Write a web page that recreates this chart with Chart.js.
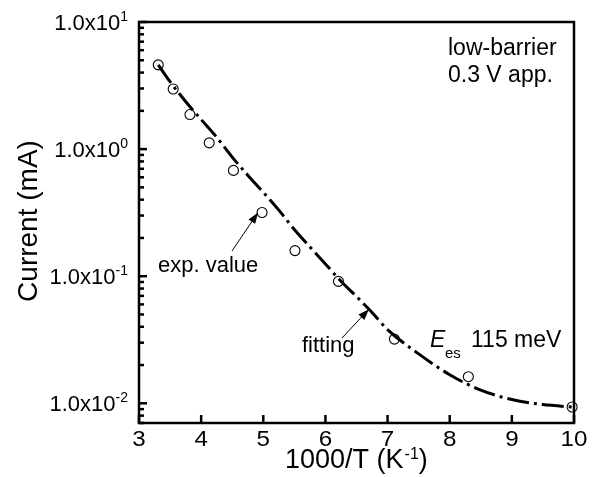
<!DOCTYPE html>
<html>
<head>
<meta charset="utf-8">
<script src="https://cdn.jsdelivr.net/npm/chart.js@4.4.0/dist/chart.umd.min.js"></script>
<style>
  html, body { margin: 0; padding: 0; background: #fff; }
</style>
</head>
<body>
<canvas id="chart" width="595" height="477"></canvas>
<script>
// measured points (open circles)
const expX = [3.31, 3.55, 3.82, 4.13, 4.52, 4.98, 5.51, 6.21, 7.11, 8.30, 9.97];
const expY = [4.6, 2.97, 1.87, 1.12, 0.68, 0.317, 0.159, 0.091, 0.032, 0.0162, 0.00935];

// fitted curve (dash-dot)
const fitX = [3.31, 3.5, 3.75, 4.0, 4.25, 4.5, 4.75, 5.0, 5.25, 5.5, 5.75, 6.0, 6.25, 6.5, 6.75, 7.0, 7.5, 8.0, 8.5, 9.0, 9.5, 10.0];
const fitY = [4.6, 3.39, 2.37, 1.71, 1.24, 0.865, 0.624, 0.457, 0.331, 0.233, 0.170, 0.125, 0.0912, 0.0692, 0.0519, 0.0380, 0.0245, 0.0168, 0.0127, 0.0107, 0.00977, 0.00933];

const xTicks = [3, 4, 5, 6, 7, 8, 9, 10];
const yDecades = [0.01, 0.1, 1, 10];
const yTickLabels = [["1.0x10", "-2"], ["1.0x10", "-1"], ["1.0x10", "0"], ["1.0x10", "1"]];
const yMin = 0.007, yMax = 10;

const FONT = '"Liberation Sans", Arial, sans-serif';

// text with a slight horizontal stretch, like the original figure
function txt(ctx, s, x, y, size, align, sx, style) {
  ctx.save();
  ctx.font = (style ? style + ' ' : '') + size + 'px ' + FONT;
  ctx.textAlign = align || 'left';
  ctx.translate(x, y);
  ctx.scale(sx || 1, 1);
  ctx.fillText(s, 0, 0);
  const w = ctx.measureText(s).width * (sx || 1);
  ctx.restore();
  return w;
}

function drawArrow(ctx, x0, y0, x1, y1) {
  const ang = Math.atan2(y1 - y0, x1 - x0);
  const len = 11, half = 4;
  ctx.beginPath();
  ctx.moveTo(x0, y0);
  ctx.lineTo(x1 - Math.cos(ang) * len * 0.8, y1 - Math.sin(ang) * len * 0.8);
  ctx.lineWidth = 1;
  ctx.stroke();
  ctx.beginPath();
  ctx.moveTo(x1, y1);
  ctx.lineTo(x1 - Math.cos(ang) * len - Math.sin(ang) * half, y1 - Math.sin(ang) * len + Math.cos(ang) * half);
  ctx.lineTo(x1 - Math.cos(ang) * len + Math.sin(ang) * half, y1 - Math.sin(ang) * len - Math.cos(ang) * half);
  ctx.closePath();
  ctx.fill();
}

const frame = {
  id: 'frame',
  afterDraw(chart) {
    const ctx = chart.ctx;
    const a = chart.chartArea;
    const xs = chart.scales.x, ys = chart.scales.y;
    ctx.save();
    ctx.strokeStyle = '#000';
    ctx.fillStyle = '#000';
    ctx.textBaseline = 'alphabetic';

    // box
    ctx.lineWidth = 2.5;
    ctx.strokeRect(a.left, a.top, a.right - a.left, a.bottom - a.top);

    // x ticks (inward) + labels
    xTicks.forEach(v => {
      const px = xs.getPixelForValue(v);
      ctx.beginPath();
      ctx.moveTo(px, a.bottom);
      ctx.lineTo(px, a.bottom - 8);
      ctx.stroke();
      txt(ctx, String(v), px, a.bottom + 23, 22, 'center', 1.1);
    });

    // y ticks: decades long, 2..9 short
    for (let d = -3; d <= 1; d++) {
      for (let m = 1; m <= 9; m++) {
        const v = m * Math.pow(10, d);
        if (v < yMin - 1e-9 || v > yMax + 1e-9) continue;
        const py = ys.getPixelForValue(v);
        ctx.beginPath();
        ctx.moveTo(a.left, py);
        ctx.lineTo(a.left + (m === 1 ? 8 : 5), py);
        ctx.stroke();
      }
    }
    yDecades.forEach((v, i) => {
      const py = ys.getPixelForValue(v);
      const [base, sup] = yTickLabels[i];
      const right = a.left - 11;
      const sw = txt(ctx, sup, right, py - 1, 14, 'right', 1);
      txt(ctx, base, right - sw, py + 8, 22, 'right', 1);
    });

    // axis titles
    ctx.save();
    ctx.translate(37, 221);
    ctx.rotate(-Math.PI / 2);
    txt(ctx, 'Current (mA)', 0, 0, 28, 'center', 1);
    ctx.restore();

    const by = 468;
    let x0 = 285;
    x0 += txt(ctx, '1000/T (K', x0, by, 27, 'left', 1);
    x0 += txt(ctx, '-1', x0 + 1, by - 9, 16, 'left', 1) + 1;
    txt(ctx, ')', x0, by, 27, 'left', 1);

    // annotations
    txt(ctx, 'low-barrier', 448, 55, 23, 'left', 1);
    txt(ctx, '0.3 V app.', 448, 82, 23, 'left', 1);
    txt(ctx, 'exp. value', 158, 272, 22, 'left', 1);
    txt(ctx, 'fitting', 302, 352, 22, 'left', 1);

    txt(ctx, 'E', 430, 347, 23, 'left', 1, 'italic');
    txt(ctx, 'es', 445, 358, 15, 'left', 1);
    txt(ctx, '115 meV', 471, 347, 23, 'left', 1);

    // arrows pointing at a data point and at the fit
    const ex = xs.getPixelForValue(expX[5]), ey = ys.getPixelForValue(expY[5]);
    drawArrow(ctx, 232, 251, ex - 4, ey);
    const fx = xs.getPixelForValue(6.7), fy = ys.getPixelForValue(0.055);
    drawArrow(ctx, 342, 338, fx, fy);

    ctx.restore();
  }
};

new Chart(document.getElementById('chart'), {
  type: 'scatter',
  data: {
    datasets: [
      {
        label: 'fitting',
        data: fitX.map((x, i) => ({ x: x, y: fitY[i] })),
        showLine: true,
        borderColor: '#000',
        borderWidth: 3,
        borderDash: [22, 5, 3, 5],
        pointRadius: 0,
        cubicInterpolationMode: 'monotone',
        fill: false
      },
      {
        label: 'exp. value',
        data: expX.map((x, i) => ({ x: x, y: expY[i] })),
        showLine: false,
        pointStyle: 'circle',
        pointRadius: 5,
        borderColor: '#000',
        borderWidth: 1.1,
        backgroundColor: 'rgba(255,255,255,0)',
        clip: 8
      }
    ]
  },
  options: {
    responsive: false,
    devicePixelRatio: 1,
    animation: false,
    layout: { padding: { left: 139, right: 21, top: 22, bottom: 54 } },
    plugins: { legend: { display: false }, tooltip: { enabled: false } },
    scales: {
      x: { type: 'linear', min: 3, max: 10, display: false },
      y: { type: 'logarithmic', min: yMin, max: yMax, display: false }
    }
  },
  plugins: [frame]
});
</script>
</body>
</html>
